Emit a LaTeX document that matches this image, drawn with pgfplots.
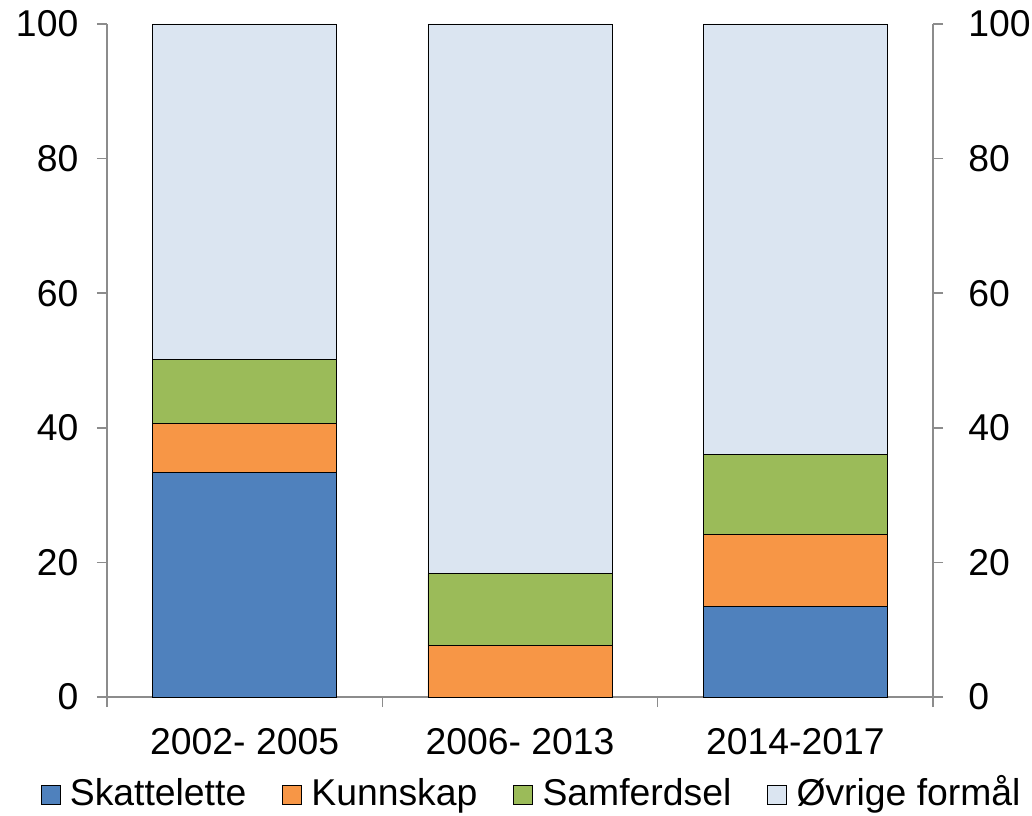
\documentclass[border=0pt]{standalone}
\usepackage{fontspec}
\setmainfont{Liberation Sans}
\usepackage{pgfplots}
\pgfplotsset{compat=1.18}
\definecolor{cSk}{HTML}{4F81BD}
\definecolor{cKu}{HTML}{F79646}
\definecolor{cSa}{HTML}{9BBB59}
\definecolor{cOv}{HTML}{DBE5F1}
\begin{document}
\begin{tikzpicture}
\path[use as bounding box] (-80.25pt,-88.5pt) rectangle (693.75pt,522.75pt);
\pgfplotsset{
  common/.style={
    width=619.5pt, height=504.75pt, scale only axis,
    xmin=-0.5, xmax=2.5, ymin=0, ymax=100,
    ytick={0,20,40,60,80,100},
    tick align=outside,
    major tick length=7.5pt,
    axis line style={-, draw=gray!90, line width=1.2pt},
    tick style={draw=gray!90, line width=1.2pt},
    /pgf/number format/assume math mode=true,
    tick label style={font=\fontsize{28}{33}\selectfont},
  }
}
\begin{axis}[common,
  axis x line*=bottom, axis y line*=left,
  ybar stacked, bar width=138pt, clip=false,
  xtick={0,1,2}, xticklabels={2002- 2005,2006- 2013,2014-2017},
  xtick style={draw=none},
  minor xtick={-0.5,0.5,1.5,2.5},
  minor tick length=7.5pt,
  minor x tick style={draw=gray!90, line width=1.2pt},
  xticklabel style={yshift=-12.5pt},
  yticklabel style={xshift=-10.5pt},
  legend columns=4,
  legend style={draw=none, fill=none, at={(0.5,-0.127)}, anchor=north, xshift=9pt,
    font=\fontsize{28}{33}\selectfont,
    nodes={text height=0.75em, text depth=0.22em},
    /tikz/every odd column/.append style={column sep=5pt},
    /tikz/every even column/.append style={column sep=25pt}},
  legend image code/.code={\draw[#1, draw=black, line width=0.6pt] (0pt,-2pt) rectangle (14.25pt,12.25pt);},
  every axis plot/.append style={draw=black, line width=0.6pt},
]
\addplot[fill=cSk] coordinates {(0,33.4) (1,0) (2,13.4)};
\addlegendentry{Skattelette}
\addplot[fill=cKu] coordinates {(0,7.2) (1,7.7) (2,10.8)};
\addlegendentry{Kunnskap}
\addplot[fill=cSa] coordinates {(0,9.5) (1,10.6) (2,11.9)};
\addlegendentry{Samferdsel}
\addplot[fill=cOv] coordinates {(0,49.9) (1,81.7) (2,63.9)};
\addlegendentry{Øvrige formål}
\end{axis}
\begin{axis}[common,
  axis y line*=right, hide x axis,
  yticklabel style={xshift=15.5pt},
]
\end{axis}
\end{tikzpicture}
\end{document}
